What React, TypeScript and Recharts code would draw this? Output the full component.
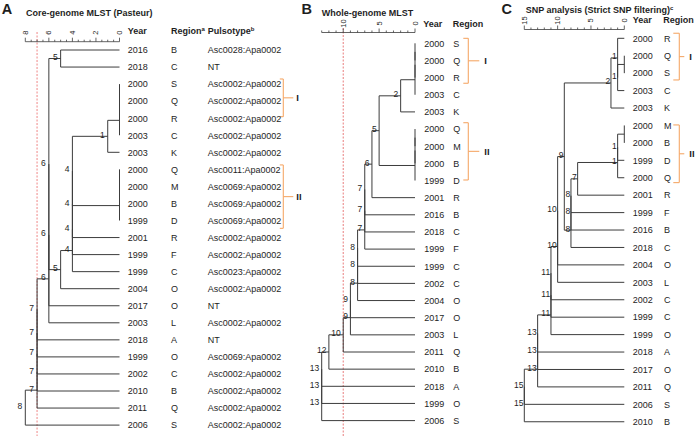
import React from 'react';
import { ComposedChart, XAxis, YAxis, Scatter, ReferenceLine } from 'recharts';

const FONT = '"Liberation Sans", Arial, Helvetica, sans-serif';
const W = 696;
const H = 436;
const AXIS_H = 20;
const LINE = '#3c3c3c';
const INK = '#1e1e1e';
const BRACKET = '#f5a868';
const TXT = { fill: INK, fontFamily: FONT };

// A: core-genome MLST (Pasteur)
const yearsA = ['2016', '2018', '2000', '2000', '2000', '2003', '2003', '2000', '2000', '2000', '1999', '2001', '1999', '1999', '2004', '2017', '2003', '2018', '1999', '2002', '2010', '2011', '2006'];
const regionsA = ['B', 'C', 'S', 'Q', 'R', 'C', 'K', 'Q', 'M', 'B', 'D', 'R', 'F', 'C', 'O', 'O', 'L', 'A', 'O', 'C', 'B', 'Q', 'S'];
const pulsotypesA = [
  'Asc0028:Apa0002', 'NT', 'Asc0002:Apa0002', 'Asc0002:Apa0002', 'Asc0002:Apa0002', 'Asc0002:Apa0002',
  'Asc0002:Apa0002', 'Asc0011:Apa0002', 'Asc0069:Apa0002', 'Asc0069:Apa0002', 'Asc0069:Apa0002',
  'Asc0002:Apa0002', 'Asc0002:Apa0002', 'Asc0023:Apa0002', 'Asc0002:Apa0002', 'NT', 'Asc0002:Apa0002',
  'NT', 'Asc0069:Apa0002', 'Asc0002:Apa0002', 'Asc0002:Apa0002', 'Asc0002:Apa0002', 'Asc0002:Apa0002',
];
// merges: [child, child, height]; 'lN' = leaf row N, 'nN' = merge N
const mergesA: [string, string, number][] = [
  ['l2', 'l3', 0], ['n0', 'l4', 0], ['n1', 'l5', 0], ['n2', 'l6', 1],
  ['l7', 'l8', 0], ['n4', 'l9', 0], ['n5', 'l10', 0],
  ['n3', 'n6', 4], ['n7', 'l11', 4], ['n8', 'l12', 4], ['n9', 'l13', 4],
  ['n10', 'l14', 5], ['l0', 'l1', 5],
  ['n12', 'n11', 6], ['n13', 'l15', 6], ['n14', 'l16', 6],
  ['n15', 'l17', 7], ['n16', 'l18', 7], ['n17', 'l19', 7], ['n18', 'l20', 7], ['n19', 'l21', 7],
  ['n20', 'l22', 8],
];
const bracketsA = [{ name: 'I', from: 1.7, to: 3.91 }, { name: 'II', from: 6.74, to: 10.46 }];

// B: whole-genome MLST
const yearsB = ['2000', '2000', '2000', '2003', '2003', '2000', '2000', '2000', '1999', '2001', '2016', '2018', '1999', '1999', '2002', '2004', '2017', '2003', '2011', '2010', '2018', '1999', '2006'];
const regionsB = ['S', 'Q', 'R', 'C', 'K', 'Q', 'M', 'B', 'D', 'R', 'B', 'C', 'F', 'C', 'C', 'O', 'O', 'L', 'Q', 'B', 'A', 'O', 'S'];
const mergesB: [string, string, number][] = [
  ['l0', 'l1', 0], ['n0', 'l2', 0], ['n1', 'l3', 0], ['n2', 'l4', 2],
  ['l5', 'l6', 0], ['n4', 'l7', 0], ['n5', 'l8', 0],
  ['n3', 'n6', 5], ['n7', 'l9', 6],
  ['n8', 'l10', 7], ['n9', 'l11', 7], ['n10', 'l12', 7],
  ['n11', 'l13', 8], ['n12', 'l14', 8], ['n13', 'l15', 8],
  ['n14', 'l16', 9], ['n15', 'l17', 9], ['n16', 'l18', 10], ['n17', 'l19', 12],
  ['n18', 'l20', 13], ['n19', 'l21', 13], ['n20', 'l22', 13],
];
const bracketsB = [{ name: 'I', from: -0.29, to: 2.33 }, { name: 'II', from: 4.63, to: 7.97 }];

// C: SNP analysis (strict SNP filtering)
const yearsC = ['2000', '2000', '2000', '2003', '2003', '2000', '2000', '1999', '2000', '2001', '1999', '2016', '2018', '2004', '2003', '2002', '1999', '1999', '2018', '2017', '2011', '2006', '2010'];
const regionsC = ['R', 'Q', 'S', 'C', 'K', 'M', 'B', 'D', 'Q', 'R', 'F', 'B', 'C', 'O', 'L', 'C', 'C', 'O', 'A', 'O', 'Q', 'S', 'B'];
const mergesC: [string, string, number][] = [
  ['l1', 'l2', 0], ['n0', 'l3', 1], ['l0', 'n1', 1], ['n2', 'l4', 2],
  ['l5', 'l6', 0], ['n4', 'l7', 1], ['n5', 'l8', 1],
  ['n6', 'l9', 7], ['n7', 'l10', 8], ['n8', 'l11', 8], ['n9', 'l12', 8],
  ['n3', 'n10', 9], ['n11', 'l13', 10], ['n12', 'l14', 10],
  ['n13', 'l15', 11], ['n14', 'l16', 11], ['n15', 'l17', 11],
  ['n16', 'l18', 13], ['n17', 'l19', 13], ['n18', 'l20', 13],
  ['n19', 'l21', 15], ['n20', 'l22', 15],
];
const bracketsC = [{ name: 'I', from: -0.29, to: 2.39 }, { name: 'II', from: 4.97, to: 8.28 }];

function buildTree(merges: [string, string, number][]) {
  const nodes: any[] = [];
  const get = (id: string) => (id[0] === 'l' ? { y: Number(id.slice(1)), h: 0 } : nodes[Number(id.slice(1))]);
  merges.forEach(([a, b, h]) => {
    const ca = get(a);
    const cb = get(b);
    nodes.push({ y: (ca.y + cb.y) / 2, h, ca, cb });
  });
  const segs: any[] = [];
  nodes.forEach((n) => {
    segs.push([{ x: n.h, y: n.ca.y }, { x: n.h, y: n.cb.y }]);
    [n.ca, n.cb].forEach((c) => {
      if (c.h !== n.h) segs.push([{ x: n.h, y: c.y }, { x: c.h, y: c.y }]);
    });
  });
  const labels = nodes.filter((n) => n.h > 0).map((n) => ({ x: n.h, y: n.y, label: String(n.h) }));
  return { segs, labels };
}

const AxisTick = (props: any) => {
  const { x, y, payload, major } = props;
  const v = payload.value;
  const isMajor = Math.abs(v / major - Math.round(v / major)) < 1e-6;
  const ly = y - 9;
  return (
    <g>
      <line x1={x} y1={y} x2={x} y2={y - (isMajor ? 4 : 2)} stroke={LINE} strokeWidth={0.8} />
      {isMajor && (
        <text x={x} y={ly} transform={`rotate(-90 ${x} ${ly})`} textAnchor="middle" dominantBaseline="central"
          fontSize={7.5} style={TXT}>
          {v}
        </text>
      )}
    </g>
  );
};

function TreePanel({ p }: { p: any }) {
  const L = p.layout;
  const { segs, labels } = buildTree(p.merges);
  const toRow = (py: number) => (py - L.row0) / L.step;
  const toDist = (px: number) => ((L.x0 - px) * p.maxDist) / (L.x0 - L.xMax);

  const ticks: number[] = [];
  for (let v = 0; v <= p.maxDist + 1e-9; v += p.minorStep) ticks.push(Number(v.toFixed(2)));

  const leaves = p.years.map((year: string, i: number) => ({
    x: 0, y: i, year, region: p.regions[i], pulso: p.pulsotypes ? p.pulsotypes[i] : '',
  }));
  const bracketLabels = p.brackets.map((b: any) => ({ x: 0, y: (b.from + b.to) / 2, name: b.name }));

  const bx = toDist(L.x0 + L.bracketDx);
  const bIn = toDist(L.x0 + L.bracketDx - L.bracketIn);
  const bOut = toDist(L.x0 + L.bracketDx + L.bracketOut);

  return (
    <div style={{ position: 'absolute', left: 0, top: 0 }}>
      <ComposedChart width={W} height={H}
        margin={{ top: L.axisY - AXIS_H, right: W - L.x0, bottom: 0, left: L.xMax }}>
        <XAxis dataKey="x" type="number" orientation="top" domain={[0, p.maxDist]} reversed
          ticks={ticks} interval={0} height={AXIS_H} tickSize={0} tickMargin={0}
          axisLine={{ stroke: LINE, strokeWidth: 0.8 }} tickLine={false}
          tick={(tp: any) => <AxisTick {...tp} major={p.majorStep} />} />
        <YAxis dataKey="y" type="number" domain={[toRow(L.axisY), toRow(H)]} reversed hide />

        {p.cutoff != null && (
          <ReferenceLine ifOverflow="visible" stroke={p.cutColor} strokeWidth={p.cutWidth} strokeDasharray={p.cutDash}
            segment={[{ x: p.cutoff, y: toRow(L.cutTop) }, { x: p.cutoff, y: toRow(H) }]} />
        )}

        {segs.map((s: any, i: number) => (
          <ReferenceLine key={`s${i}`} segment={s} ifOverflow="visible" stroke={LINE} strokeWidth={1} />
        ))}

        {p.brackets.map((b: any, i: number) => {
          const mid = (b.from + b.to) / 2;
          const parts = [
            [{ x: bx, y: b.from }, { x: bx, y: b.to }],
            [{ x: bIn, y: b.from }, { x: bx, y: b.from }],
            [{ x: bIn, y: b.to }, { x: bx, y: b.to }],
            [{ x: bx, y: mid }, { x: bOut, y: mid }],
          ];
          return parts.map((seg, j) => (
            <ReferenceLine key={`b${i}-${j}`} segment={seg as any} ifOverflow="visible" stroke={BRACKET} strokeWidth={1.1} />
          ));
        })}

        <Scatter data={labels} isAnimationActive={false} fill={INK}
          shape={(sp: any) => (
            <text x={sp.cx + L.labelDx} y={sp.cy + 1.5} textAnchor="end" fontSize={8.5} style={TXT}>
              {sp.payload.label}
            </text>
          )} />

        <Scatter data={leaves} isAnimationActive={false} fill={INK}
          shape={(sp: any) => (
            <g fontSize={9}>
              <text x={sp.cx + L.yearDx} y={sp.cy + 3.3} style={TXT}>{sp.payload.year}</text>
              <text x={sp.cx + L.regionDx} y={sp.cy + 3.3} style={TXT}>{sp.payload.region}</text>
              {sp.payload.pulso && <text x={sp.cx + L.pulsoDx} y={sp.cy + 3.3} style={TXT}>{sp.payload.pulso}</text>}
            </g>
          )} />

        <Scatter data={bracketLabels} isAnimationActive={false} fill={INK}
          shape={(sp: any) => (
            <text x={sp.cx + L.bracketDx + L.bracketOut + L.bracketGap} y={sp.cy + 3.4} fontSize={9.5}
              fontWeight="bold" style={TXT}>
              {sp.payload.name}
            </text>
          )} />
      </ComposedChart>
    </div>
  );
}

const panelA = {
  years: yearsA, regions: regionsA, pulsotypes: pulsotypesA, merges: mergesA, brackets: bracketsA,
  maxDist: 8, majorStep: 2, minorStep: 0.5, cutoff: 7, cutColor: '#f4a9a9', cutWidth: 1.4, cutDash: '2 1.5',
  layout: {
    x0: 119.5, xMax: 25.3, axisY: 41.7, row0: 50, step: 17.05, cutTop: 32,
    yearDx: 8.2, regionDx: 51.5, pulsoDx: 88.2, labelDx: -3,
    bracketDx: 163.8, bracketIn: 3.5, bracketOut: 10, bracketGap: 3,
  },
};

const panelB = {
  years: yearsB, regions: regionsB, merges: mergesB, brackets: bracketsB,
  maxDist: 13, majorStep: 5, minorStep: 1, cutoff: 10, cutColor: '#e35b5b', cutWidth: 0.8, cutDash: '2 1.5',
  layout: {
    x0: 415, xMax: 321.7, axisY: 32.5, row0: 43.3, step: 17.15, cutTop: 28,
    yearDx: 9.3, regionDx: 38.3, labelDx: -2.5,
    bracketDx: 53.3, bracketIn: 5, bracketOut: 11, bracketGap: 5,
  },
};

const panelC = {
  years: yearsC, regions: regionsC, merges: mergesC, brackets: bracketsC,
  maxDist: 15, majorStep: 5, minorStep: 1,
  layout: {
    x0: 624.3, xMax: 524.3, axisY: 29.5, row0: 38.3, step: 17.43, cutTop: 20,
    yearDx: 8.4, regionDx: 39.7, labelDx: -0.8,
    bracketDx: 55, bracketIn: 6, bracketOut: 5, bracketGap: 5,
  },
};

const Sup = ({ children }: { children: React.ReactNode }) => (
  <tspan fontSize={6} dy={-3.5}>{children}</tspan>
);

export default function App() {
  return (
    <div style={{ position: 'absolute', left: 0, top: 0, width: W, height: H, background: '#fff', overflow: 'hidden' }}>
      <TreePanel p={panelA} />
      <TreePanel p={panelB} />
      <TreePanel p={panelC} />
      <svg width={W} height={H} style={{ position: 'absolute', left: 0, top: 0, pointerEvents: 'none' }}
        fontFamily={FONT} fill={INK}>
        {/* panel letters and titles */}
        <text x={1.7} y={14} fontSize={14.5} fontWeight="bold">A</text>
        <text x={26} y={15.6} fontSize={9} fontWeight="bold">Core-genome MLST (Pasteur)</text>
        <text x={301.5} y={14} fontSize={14.5} fontWeight="bold">B</text>
        <text x={321.7} y={16} fontSize={9} fontWeight="bold">Whole-genome MLST</text>
        <text x={501.5} y={14} fontSize={14.5} fontWeight="bold">C</text>
        <text x={525.7} y={13} fontSize={9} fontWeight="bold">
          SNP analysis (Strict SNP filtering)<Sup>c</Sup>
        </text>

        {/* column headers */}
        <g fontSize={9} fontWeight="bold">
          <text x={127.7} y={34}>Year</text>
          <text x={171} y={34}>Region<Sup>a</Sup></text>
          <text x={207.7} y={34}>Pulsotype<Sup>b</Sup></text>
          <text x={423.3} y={26.6}>Year</text>
          <text x={452.7} y={26.6}>Region</text>
          <text x={632.7} y={22.6}>Year</text>
          <text x={663.3} y={22.6}>Region</text>
        </g>
      </svg>
    </div>
  );
}
